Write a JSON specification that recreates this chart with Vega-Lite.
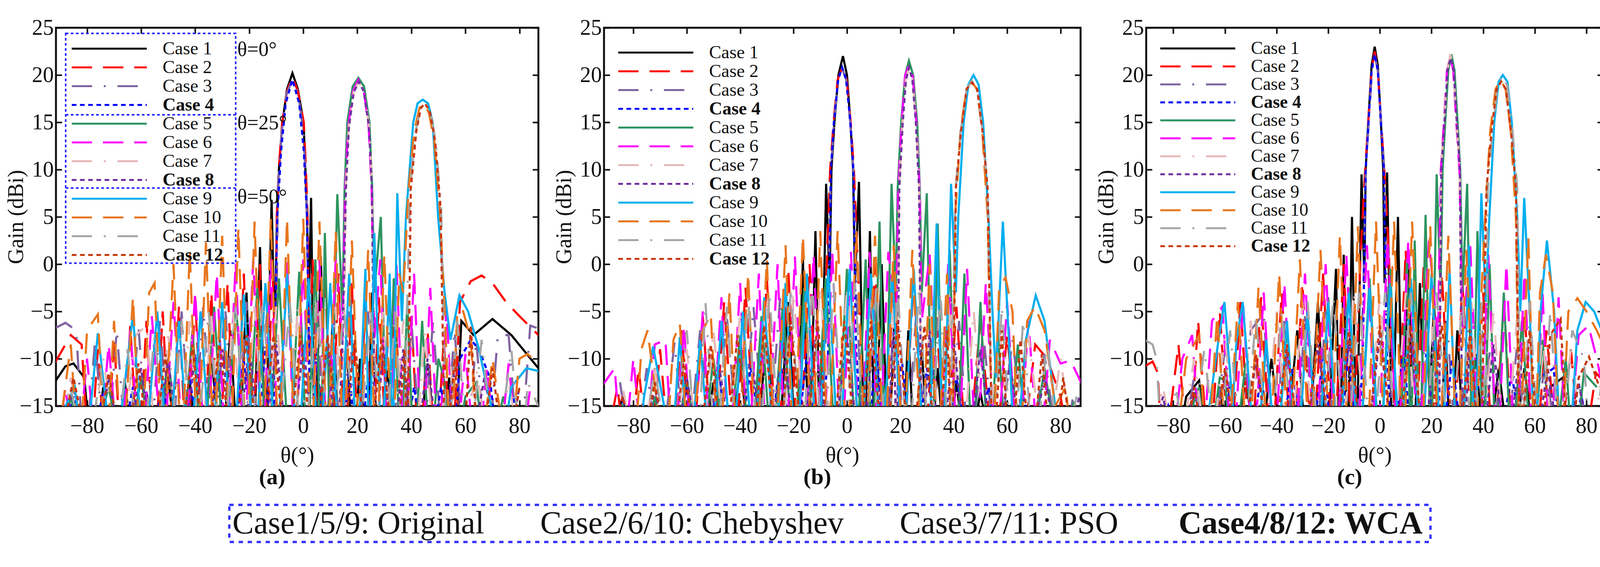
{
  "$schema": "https://vega.github.io/schema/vega-lite/v6.json",
  "background": "white",
  "padding": {"left": 10, "top": 40, "right": 0, "bottom": 0},
  "config": {
    "font": "Liberation Serif",
    "view": {"stroke": "#111111", "strokeWidth": 5},
    "axis": {"labelFont": "Liberation Serif", "titleFont": "Liberation Serif", "labelFontSize": 56, "titleFontSize": 56, "titleFontWeight": "normal", "labelColor": "#111111", "titleColor": "#111111", "domain": false, "grid": false, "tickColor": "#111111", "tickWidth": 4, "tickSize": -15},
    "title": {"font": "Liberation Serif", "fontSize": 58, "fontWeight": "bold", "color": "#111111"}
  },
  "datasets": {
    "a": [
      {"c":1,"x":-92,"y":-12.5},{"c":1,"x":-88,"y":-10.8},{"c":1,"x":-85,"y":-10.5},{"c":1,"x":-81,"y":-12},{"c":1,"x":-78,"y":-22},{"c":1,"x":-74,"y":-13},{"c":1,"x":-70,"y":-22},{"c":1,"x":-66,"y":-12.5},{"c":1,"x":-62,"y":-22},{"c":1,"x":-58,"y":-13.5},{"c":1,"x":-54,"y":-22},{"c":1,"x":-50,"y":-12},{"c":1,"x":-46,"y":-22},{"c":1,"x":-42,"y":-12.5},{"c":1,"x":-38,"y":-22},{"c":1,"x":-34,"y":-9.5},{"c":1,"x":-30,"y":-22},{"c":1,"x":-27,"y":-7},{"c":1,"x":-24,"y":-22},{"c":1,"x":-21,"y":-3},{"c":1,"x":-18.5,"y":-22},{"c":1,"x":-16,"y":1.8},{"c":1,"x":-14,"y":-22},{"c":1,"x":-11.7,"y":6.8},{"c":1,"x":-10.6,"y":-8},{"c":1,"x":-9.7,"y":5},{"c":1,"x":-9,"y":10},{"c":1,"x":-7.7,"y":15},{"c":1,"x":-6,"y":18.5},{"c":1,"x":-4,"y":20.2},{"c":1,"x":-2,"y":18.5},{"c":1,"x":0.1,"y":15},{"c":1,"x":0.8,"y":10},{"c":1,"x":1.4,"y":5},{"c":1,"x":2,"y":-5},{"c":1,"x":2.9,"y":7},{"c":1,"x":4.2,"y":-22},{"c":1,"x":6.5,"y":0.8},{"c":1,"x":8.5,"y":-22},{"c":1,"x":11,"y":-5},{"c":1,"x":13.5,"y":-22},{"c":1,"x":16,"y":-8},{"c":1,"x":18.5,"y":-22},{"c":1,"x":21,"y":-10},{"c":1,"x":23.5,"y":-22},{"c":1,"x":25.5,"y":-3},{"c":1,"x":27.5,"y":-22},{"c":1,"x":31,"y":-11},{"c":1,"x":34,"y":-22},{"c":1,"x":38,"y":-13},{"c":1,"x":42,"y":-22},{"c":1,"x":46,"y":-10.5},{"c":1,"x":50,"y":-22},{"c":1,"x":54,"y":-12},{"c":1,"x":56,"y":-22},{"c":1,"x":58.5,"y":-6},{"c":1,"x":63,"y":-7.5},{"c":1,"x":70,"y":-5.8},{"c":1,"x":77,"y":-7.5},{"c":1,"x":87,"y":-11},
      {"c":2,"x":-92,"y":-10.5},{"c":2,"x":-86,"y":-7.5},{"c":2,"x":-82,"y":-8.5},{"c":2,"x":-79,"y":-22},{"c":2,"x":-76,"y":-9},{"c":2,"x":-73,"y":-22},{"c":2,"x":-70,"y":-8},{"c":2,"x":-67,"y":-22},{"c":2,"x":-64,"y":-6.5},{"c":2,"x":-61,"y":-22},{"c":2,"x":-58,"y":-6},{"c":2,"x":-55,"y":-22},{"c":2,"x":-52,"y":-5},{"c":2,"x":-49,"y":-22},{"c":2,"x":-46,"y":-4.5},{"c":2,"x":-43,"y":-22},{"c":2,"x":-40,"y":-3.5},{"c":2,"x":-37,"y":-22},{"c":2,"x":-34,"y":-3},{"c":2,"x":-31,"y":-22},{"c":2,"x":-28,"y":-2},{"c":2,"x":-25,"y":-22},{"c":2,"x":-22,"y":-1},{"c":2,"x":-19,"y":-22},{"c":2,"x":-16,"y":0},{"c":2,"x":-13.5,"y":-22},{"c":2,"x":-11.5,"y":0.5},{"c":2,"x":-10.3,"y":-10},{"c":2,"x":-9.8,"y":5},{"c":2,"x":-9.1,"y":10},{"c":2,"x":-7.8,"y":15},{"c":2,"x":-6,"y":18.3},{"c":2,"x":-4,"y":19.8},{"c":2,"x":-2,"y":18.3},{"c":2,"x":0.2,"y":15},{"c":2,"x":1,"y":10},{"c":2,"x":1.6,"y":5},{"c":2,"x":2.2,"y":-10},{"c":2,"x":3.5,"y":0.5},{"c":2,"x":5.5,"y":-22},{"c":2,"x":8,"y":0},{"c":2,"x":10.5,"y":-22},{"c":2,"x":13,"y":-1},{"c":2,"x":15.5,"y":-22},{"c":2,"x":18,"y":-2},{"c":2,"x":20.5,"y":-22},{"c":2,"x":23,"y":-3},{"c":2,"x":25.5,"y":-22},{"c":2,"x":28,"y":-3.5},{"c":2,"x":31,"y":-22},{"c":2,"x":34,"y":-4.5},{"c":2,"x":37,"y":-22},{"c":2,"x":40,"y":-5.5},{"c":2,"x":43,"y":-22},{"c":2,"x":46,"y":-7},{"c":2,"x":49,"y":-22},{"c":2,"x":52,"y":-8},{"c":2,"x":55,"y":-22},{"c":2,"x":58,"y":-4},{"c":2,"x":62,"y":-1.8},{"c":2,"x":66,"y":-1.2},{"c":2,"x":70,"y":-2},{"c":2,"x":75,"y":-4},{"c":2,"x":80,"y":-5.5},{"c":2,"x":87,"y":-7.5},
      {"c":3,"x":-92,"y":-6.8},{"c":3,"x":-88,"y":-6.2},{"c":3,"x":-84,"y":-7},{"c":3,"x":-81,"y":-22},{"c":3,"x":-77,"y":-8},{"c":3,"x":-73,"y":-22},{"c":3,"x":-69,"y":-7},{"c":3,"x":-65,"y":-22},{"c":3,"x":-61,"y":-6.5},{"c":3,"x":-57,"y":-22},{"c":3,"x":-53,"y":-6},{"c":3,"x":-49,"y":-22},{"c":3,"x":-45,"y":-5},{"c":3,"x":-41,"y":-22},{"c":3,"x":-37,"y":-4.5},{"c":3,"x":-33,"y":-22},{"c":3,"x":-29,"y":-4},{"c":3,"x":-25,"y":-22},{"c":3,"x":-21,"y":-4},{"c":3,"x":-17,"y":-22},{"c":3,"x":-13,"y":-3},{"c":3,"x":-10.5,"y":-22},{"c":3,"x":-9.4,"y":8},{"c":3,"x":-8,"y":14},{"c":3,"x":-6.2,"y":18},{"c":3,"x":-4,"y":19.5},{"c":3,"x":-1.8,"y":18},{"c":3,"x":0,"y":14},{"c":3,"x":1.2,"y":8},{"c":3,"x":2.5,"y":-22},{"c":3,"x":5,"y":-4},{"c":3,"x":8,"y":-22},{"c":3,"x":11,"y":-5},{"c":3,"x":14,"y":-22},{"c":3,"x":17,"y":-5},{"c":3,"x":20,"y":-22},{"c":3,"x":24,"y":-5},{"c":3,"x":28,"y":-22},{"c":3,"x":32,"y":-5.5},{"c":3,"x":36,"y":-22},{"c":3,"x":40,"y":-6},{"c":3,"x":44,"y":-22},{"c":3,"x":48,"y":-6},{"c":3,"x":52,"y":-22},{"c":3,"x":56,"y":-7},{"c":3,"x":60,"y":-22},{"c":3,"x":64,"y":-8},{"c":3,"x":68,"y":-22},{"c":3,"x":72,"y":-7.5},{"c":3,"x":76,"y":-7.5},{"c":3,"x":80,"y":-22},{"c":3,"x":84,"y":-6.5},{"c":3,"x":87,"y":-6.8},
      {"c":4,"x":-92,"y":-22},{"c":4,"x":-85,"y":-14},{"c":4,"x":-80,"y":-22},{"c":4,"x":-74,"y":-13.5},{"c":4,"x":-69,"y":-22},{"c":4,"x":-63,"y":-13},{"c":4,"x":-58,"y":-22},{"c":4,"x":-52,"y":-12.5},{"c":4,"x":-47,"y":-22},{"c":4,"x":-42,"y":-12},{"c":4,"x":-37,"y":-22},{"c":4,"x":-32,"y":-11},{"c":4,"x":-27,"y":-22},{"c":4,"x":-22,"y":-10},{"c":4,"x":-18,"y":-22},{"c":4,"x":-14,"y":-9},{"c":4,"x":-11.5,"y":-22},{"c":4,"x":-9.6,"y":5},{"c":4,"x":-8.2,"y":12},{"c":4,"x":-6.5,"y":17},{"c":4,"x":-4,"y":19.5},{"c":4,"x":-1.5,"y":17},{"c":4,"x":0.2,"y":12},{"c":4,"x":1.4,"y":5},{"c":4,"x":2.8,"y":-22},{"c":4,"x":5,"y":-9},{"c":4,"x":8,"y":-22},{"c":4,"x":11,"y":-10},{"c":4,"x":14,"y":-22},{"c":4,"x":17,"y":-11},{"c":4,"x":20,"y":-22},{"c":4,"x":24,"y":-12},{"c":4,"x":28,"y":-22},{"c":4,"x":32,"y":-12.5},{"c":4,"x":36,"y":-22},{"c":4,"x":41,"y":-13},{"c":4,"x":46,"y":-22},{"c":4,"x":51,"y":-13},{"c":4,"x":55,"y":-22},{"c":4,"x":58,"y":-10},{"c":4,"x":62,"y":-8},{"c":4,"x":65,"y":-9},{"c":4,"x":69,"y":-12},{"c":4,"x":73,"y":-22},{"c":4,"x":78,"y":-14},{"c":4,"x":85,"y":-22},
      {"c":5,"x":-92,"y":-22},{"c":5,"x":-86,"y":-14},{"c":5,"x":-80,"y":-22},{"c":5,"x":-72,"y":-13},{"c":5,"x":-66,"y":-22},{"c":5,"x":-60,"y":-12},{"c":5,"x":-55,"y":-22},{"c":5,"x":-50,"y":-10},{"c":5,"x":-45,"y":-22},{"c":5,"x":-41,"y":-7},{"c":5,"x":-37,"y":-22},{"c":5,"x":-33,"y":-4.5},{"c":5,"x":-29,"y":-22},{"c":5,"x":-25,"y":-3.5},{"c":5,"x":-21,"y":-22},{"c":5,"x":-17,"y":-2.5},{"c":5,"x":-13,"y":-22},{"c":5,"x":-9,"y":-1.5},{"c":5,"x":-5,"y":-22},{"c":5,"x":-1.5,"y":-0.8},{"c":5,"x":1.5,"y":-22},{"c":5,"x":4.5,"y":0.5},{"c":5,"x":6.5,"y":-22},{"c":5,"x":8,"y":3.3},{"c":5,"x":10.2,"y":-22},{"c":5,"x":12.6,"y":7.4},{"c":5,"x":14.5,"y":-5},{"c":5,"x":15.3,"y":8},{"c":5,"x":16.3,"y":15},{"c":5,"x":18.3,"y":18.8},{"c":5,"x":20.4,"y":19.7},{"c":5,"x":22.5,"y":18.8},{"c":5,"x":24.5,"y":15},{"c":5,"x":25.5,"y":8},{"c":5,"x":26.3,"y":-3},{"c":5,"x":28.7,"y":5},{"c":5,"x":31,"y":-22},{"c":5,"x":33.5,"y":-1.5},{"c":5,"x":36,"y":-22},{"c":5,"x":38.5,"y":-4},{"c":5,"x":41,"y":-22},{"c":5,"x":44,"y":-6},{"c":5,"x":47,"y":-22},{"c":5,"x":50,"y":-10},{"c":5,"x":52,"y":-12},{"c":5,"x":55,"y":-22},{"c":5,"x":60,"y":-14},{"c":5,"x":64,"y":-12.5},{"c":5,"x":68,"y":-22},{"c":5,"x":74,"y":-14},{"c":5,"x":80,"y":-22},
      {"c":6,"x":-92,"y":-22},{"c":6,"x":-88,"y":-13},{"c":6,"x":-84,"y":-22},{"c":6,"x":-80,"y":-10},{"c":6,"x":-76,"y":-22},{"c":6,"x":-72,"y":-8.5},{"c":6,"x":-68,"y":-22},{"c":6,"x":-64,"y":-7},{"c":6,"x":-60,"y":-22},{"c":6,"x":-56,"y":-5.5},{"c":6,"x":-52,"y":-22},{"c":6,"x":-48,"y":-4},{"c":6,"x":-44,"y":-22},{"c":6,"x":-40,"y":-3},{"c":6,"x":-36,"y":-22},{"c":6,"x":-32,"y":-1},{"c":6,"x":-28.5,"y":-22},{"c":6,"x":-25,"y":0.2},{"c":6,"x":-22,"y":-22},{"c":6,"x":-18.5,"y":0.5},{"c":6,"x":-15,"y":-22},{"c":6,"x":-12,"y":0.5},{"c":6,"x":-9,"y":-22},{"c":6,"x":-6,"y":0.5},{"c":6,"x":-3,"y":-22},{"c":6,"x":0,"y":0.5},{"c":6,"x":3,"y":-22},{"c":6,"x":6,"y":0.5},{"c":6,"x":9,"y":-22},{"c":6,"x":12,"y":0.5},{"c":6,"x":14.5,"y":-8},{"c":6,"x":15.5,"y":8},{"c":6,"x":16.6,"y":14.5},{"c":6,"x":18.4,"y":18.3},{"c":6,"x":20.4,"y":19.5},{"c":6,"x":22.4,"y":18.3},{"c":6,"x":24.2,"y":14.5},{"c":6,"x":25.3,"y":8},{"c":6,"x":26.3,"y":-8},{"c":6,"x":28.5,"y":0.5},{"c":6,"x":31.5,"y":-22},{"c":6,"x":34.5,"y":0},{"c":6,"x":37.5,"y":-22},{"c":6,"x":41,"y":-1},{"c":6,"x":44,"y":-22},{"c":6,"x":47,"y":-2.5},{"c":6,"x":50,"y":-22},{"c":6,"x":53,"y":-4.5},{"c":6,"x":56,"y":-22},{"c":6,"x":60,"y":-9.5},{"c":6,"x":64,"y":-22},{"c":6,"x":68,"y":-11},{"c":6,"x":72,"y":-22},{"c":6,"x":76,"y":-10.5},{"c":6,"x":80,"y":-22},{"c":6,"x":84,"y":-13},
      {"c":7,"x":-92,"y":-22},{"c":7,"x":-86,"y":-12},{"c":7,"x":-80,"y":-22},{"c":7,"x":-74,"y":-10},{"c":7,"x":-68,"y":-22},{"c":7,"x":-62,"y":-7.5},{"c":7,"x":-58,"y":-6.5},{"c":7,"x":-54,"y":-22},{"c":7,"x":-50,"y":-7},{"c":7,"x":-46,"y":-22},{"c":7,"x":-42,"y":-6},{"c":7,"x":-38,"y":-22},{"c":7,"x":-34,"y":-5.5},{"c":7,"x":-30,"y":-22},{"c":7,"x":-26,"y":-5},{"c":7,"x":-22,"y":-22},{"c":7,"x":-18,"y":-4.5},{"c":7,"x":-14,"y":-22},{"c":7,"x":-10,"y":-4.5},{"c":7,"x":-6,"y":-22},{"c":7,"x":-2,"y":-4.5},{"c":7,"x":2,"y":-22},{"c":7,"x":6,"y":-4.5},{"c":7,"x":9,"y":-22},{"c":7,"x":12,"y":-4.5},{"c":7,"x":14.6,"y":-22},{"c":7,"x":15.7,"y":8},{"c":7,"x":16.8,"y":14.5},{"c":7,"x":18.6,"y":18.2},{"c":7,"x":20.6,"y":19.3},{"c":7,"x":22.6,"y":18.2},{"c":7,"x":24.4,"y":14.5},{"c":7,"x":25.5,"y":8},{"c":7,"x":26.6,"y":-22},{"c":7,"x":29.5,"y":-5},{"c":7,"x":33,"y":-22},{"c":7,"x":37,"y":-5.8},{"c":7,"x":41,"y":-22},{"c":7,"x":45,"y":-7},{"c":7,"x":49,"y":-22},{"c":7,"x":54,"y":-9},{"c":7,"x":58,"y":-22},{"c":7,"x":64,"y":-11},{"c":7,"x":70,"y":-22},{"c":7,"x":76,"y":-12.5},{"c":7,"x":82,"y":-22},
      {"c":8,"x":-92,"y":-22},{"c":8,"x":-85,"y":-13},{"c":8,"x":-78,"y":-22},{"c":8,"x":-72,"y":-12},{"c":8,"x":-66,"y":-22},{"c":8,"x":-60,"y":-11},{"c":8,"x":-55,"y":-22},{"c":8,"x":-50,"y":-10},{"c":8,"x":-45,"y":-22},{"c":8,"x":-40,"y":-9.5},{"c":8,"x":-35,"y":-22},{"c":8,"x":-30,"y":-9},{"c":8,"x":-25,"y":-22},{"c":8,"x":-20,"y":-8.5},{"c":8,"x":-15,"y":-22},{"c":8,"x":-10,"y":-8.5},{"c":8,"x":-5,"y":-22},{"c":8,"x":0,"y":-8.5},{"c":8,"x":5,"y":-22},{"c":8,"x":9,"y":-8},{"c":8,"x":12.5,"y":-22},{"c":8,"x":14.5,"y":-8.5},{"c":8,"x":15.8,"y":8},{"c":8,"x":16.9,"y":14.5},{"c":8,"x":18.7,"y":18.2},{"c":8,"x":20.6,"y":19.3},{"c":8,"x":22.5,"y":18.2},{"c":8,"x":24.3,"y":14.5},{"c":8,"x":25.4,"y":8},{"c":8,"x":26.6,"y":-22},{"c":8,"x":29.5,"y":-8},{"c":8,"x":33,"y":-22},{"c":8,"x":37,"y":-9},{"c":8,"x":41,"y":-22},{"c":8,"x":46,"y":-10},{"c":8,"x":51,"y":-22},{"c":8,"x":56,"y":-11},{"c":8,"x":61,"y":-22},{"c":8,"x":67,"y":-12},{"c":8,"x":74,"y":-22},{"c":8,"x":80,"y":-13},
      {"c":9,"x":-92,"y":-22},{"c":9,"x":-88,"y":-15},{"c":9,"x":-84.5,"y":-13},{"c":9,"x":-81,"y":-22},{"c":9,"x":-76,"y":-7.3},{"c":9,"x":-70,"y":-22},{"c":9,"x":-63,"y":-5.3},{"c":9,"x":-59,"y":-22},{"c":9,"x":-54,"y":-5},{"c":9,"x":-50,"y":-22},{"c":9,"x":-46,"y":-6},{"c":9,"x":-42,"y":-22},{"c":9,"x":-38,"y":-5},{"c":9,"x":-34,"y":-22},{"c":9,"x":-30,"y":-4},{"c":9,"x":-26,"y":-22},{"c":9,"x":-22,"y":-3.2},{"c":9,"x":-18,"y":-22},{"c":9,"x":-14,"y":-2},{"c":9,"x":-10,"y":-22},{"c":9,"x":-6,"y":-1},{"c":9,"x":-2,"y":-22},{"c":9,"x":2,"y":-1.5},{"c":9,"x":6,"y":-22},{"c":9,"x":10,"y":-2},{"c":9,"x":13.5,"y":-22},{"c":9,"x":17,"y":-1},{"c":9,"x":20,"y":-22},{"c":9,"x":23,"y":-0.5},{"c":9,"x":24.5,"y":-22},{"c":9,"x":26.3,"y":3.3},{"c":9,"x":29,"y":-22},{"c":9,"x":32,"y":-1},{"c":9,"x":33,"y":-22},{"c":9,"x":34.8,"y":7.5},{"c":9,"x":36.5,"y":-6},{"c":9,"x":38,"y":5},{"c":9,"x":40.7,"y":15},{"c":9,"x":42.3,"y":17},{"c":9,"x":44.2,"y":17.4},{"c":9,"x":46.2,"y":17},{"c":9,"x":47.9,"y":15},{"c":9,"x":49.9,"y":5},{"c":9,"x":52.3,"y":-3},{"c":9,"x":54.5,"y":-8},{"c":9,"x":57.8,"y":-3.3},{"c":9,"x":61,"y":-5},{"c":9,"x":65,"y":-9},{"c":9,"x":69.5,"y":-15},{"c":9,"x":72,"y":-22},{"c":9,"x":77,"y":-13},{"c":9,"x":82.6,"y":-11},{"c":9,"x":87,"y":-11.3},
      {"c":10,"x":-92,"y":-22},{"c":10,"x":-89,"y":-15},{"c":10,"x":-86,"y":-8.5},{"c":10,"x":-83,"y":-22},{"c":10,"x":-80,"y":-7},{"c":10,"x":-76,"y":-5.3},{"c":10,"x":-73,"y":-22},{"c":10,"x":-70,"y":-6},{"c":10,"x":-67,"y":-22},{"c":10,"x":-63,"y":-3.5},{"c":10,"x":-60,"y":-22},{"c":10,"x":-57,"y":-3},{"c":10,"x":-55,"y":-2},{"c":10,"x":-52,"y":-22},{"c":10,"x":-48,"y":0},{"c":10,"x":-45,"y":-22},{"c":10,"x":-42,"y":1.5},{"c":10,"x":-39,"y":-22},{"c":10,"x":-36,"y":2.3},{"c":10,"x":-33,"y":-22},{"c":10,"x":-30,"y":3},{"c":10,"x":-27,"y":-22},{"c":10,"x":-24,"y":3.8},{"c":10,"x":-21,"y":-22},{"c":10,"x":-18,"y":4.5},{"c":10,"x":-15,"y":-22},{"c":10,"x":-12,"y":4.8},{"c":10,"x":-9,"y":-22},{"c":10,"x":-6,"y":4.8},{"c":10,"x":-3,"y":-22},{"c":10,"x":0,"y":4.8},{"c":10,"x":3,"y":-22},{"c":10,"x":6,"y":4.5},{"c":10,"x":9,"y":-22},{"c":10,"x":12,"y":3.5},{"c":10,"x":15,"y":-22},{"c":10,"x":18,"y":2.5},{"c":10,"x":21,"y":-22},{"c":10,"x":24,"y":1.5},{"c":10,"x":27,"y":-22},{"c":10,"x":30,"y":1},{"c":10,"x":33,"y":-22},{"c":10,"x":35.5,"y":-1},{"c":10,"x":37,"y":-3},{"c":10,"x":39,"y":8},{"c":10,"x":41,"y":14},{"c":10,"x":43,"y":16.5},{"c":10,"x":44.5,"y":17},{"c":10,"x":46.5,"y":16},{"c":10,"x":48.5,"y":13},{"c":10,"x":50.5,"y":6},{"c":10,"x":52.5,"y":-6},{"c":10,"x":54.5,"y":-22},{"c":10,"x":57,"y":-5},{"c":10,"x":59,"y":-4.8},{"c":10,"x":62,"y":-8},{"c":10,"x":65,"y":-22},{"c":10,"x":70,"y":-10},{"c":10,"x":76,"y":-22},{"c":10,"x":80,"y":-10},{"c":10,"x":83,"y":-9.5},{"c":10,"x":87,"y":-10.5},
      {"c":11,"x":-92,"y":-22},{"c":11,"x":-86,"y":-13},{"c":11,"x":-80,"y":-22},{"c":11,"x":-75,"y":-11},{"c":11,"x":-70,"y":-22},{"c":11,"x":-65,"y":-9},{"c":11,"x":-60,"y":-22},{"c":11,"x":-55,"y":-7.5},{"c":11,"x":-50,"y":-22},{"c":11,"x":-45,"y":-6},{"c":11,"x":-40,"y":-22},{"c":11,"x":-35,"y":-5},{"c":11,"x":-30,"y":-22},{"c":11,"x":-25,"y":-4.5},{"c":11,"x":-20,"y":-22},{"c":11,"x":-15,"y":-4},{"c":11,"x":-10,"y":-22},{"c":11,"x":-5,"y":-4},{"c":11,"x":0,"y":-22},{"c":11,"x":5,"y":-4},{"c":11,"x":10,"y":-22},{"c":11,"x":15,"y":-4.5},{"c":11,"x":20,"y":-22},{"c":11,"x":25,"y":-5},{"c":11,"x":30,"y":-22},{"c":11,"x":34,"y":-5},{"c":11,"x":37,"y":-22},{"c":11,"x":39.5,"y":8},{"c":11,"x":41.5,"y":14},{"c":11,"x":43.5,"y":16.5},{"c":11,"x":45,"y":17},{"c":11,"x":47,"y":16.2},{"c":11,"x":49,"y":13},{"c":11,"x":51,"y":6},{"c":11,"x":53,"y":-22},{"c":11,"x":57,"y":-6},{"c":11,"x":61,"y":-22},{"c":11,"x":66,"y":-8},{"c":11,"x":71,"y":-22},{"c":11,"x":77,"y":-9},{"c":11,"x":81,"y":-22},{"c":11,"x":83,"y":-12.5},{"c":11,"x":87,"y":-15},
      {"c":12,"x":-92,"y":-22},{"c":12,"x":-85,"y":-12},{"c":12,"x":-78,"y":-22},{"c":12,"x":-72,"y":-11.5},{"c":12,"x":-66,"y":-22},{"c":12,"x":-61,"y":-10.5},{"c":12,"x":-56,"y":-22},{"c":12,"x":-51,"y":-9.5},{"c":12,"x":-46,"y":-22},{"c":12,"x":-41,"y":-8.5},{"c":12,"x":-36,"y":-22},{"c":12,"x":-31,"y":-8},{"c":12,"x":-26,"y":-22},{"c":12,"x":-21,"y":-7.5},{"c":12,"x":-16,"y":-22},{"c":12,"x":-11,"y":-7.5},{"c":12,"x":-6,"y":-22},{"c":12,"x":-1,"y":-7.5},{"c":12,"x":4,"y":-22},{"c":12,"x":9,"y":-7.5},{"c":12,"x":14,"y":-22},{"c":12,"x":19,"y":-8},{"c":12,"x":24,"y":-22},{"c":12,"x":29,"y":-8},{"c":12,"x":34,"y":-22},{"c":12,"x":37.5,"y":-9},{"c":12,"x":38.5,"y":-22},{"c":12,"x":39.8,"y":8},{"c":12,"x":41.8,"y":14},{"c":12,"x":43.5,"y":16.5},{"c":12,"x":45,"y":17},{"c":12,"x":46.8,"y":16.2},{"c":12,"x":48.8,"y":13},{"c":12,"x":50.8,"y":6},{"c":12,"x":52.5,"y":-22},{"c":12,"x":56,"y":-10},{"c":12,"x":59,"y":-22},{"c":12,"x":62,"y":-6.5},{"c":12,"x":65,"y":-22},{"c":12,"x":70,"y":-11},{"c":12,"x":75,"y":-22},{"c":12,"x":80,"y":-13}
    ],
    "b": [
      {"c":1,"x":-92,"y":-22},{"c":1,"x":-84,"y":-14},{"c":1,"x":-78,"y":-22},{"c":1,"x":-72,"y":-14.5},{"c":1,"x":-66,"y":-22},{"c":1,"x":-60,"y":-13},{"c":1,"x":-55,"y":-22},{"c":1,"x":-50,"y":-12.5},{"c":1,"x":-45,"y":-22},{"c":1,"x":-40,"y":-11},{"c":1,"x":-35,"y":-22},{"c":1,"x":-30,"y":-8},{"c":1,"x":-26,"y":-22},{"c":1,"x":-22,"y":-4},{"c":1,"x":-19,"y":-22},{"c":1,"x":-16.5,"y":0.5},{"c":1,"x":-14,"y":-22},{"c":1,"x":-11.8,"y":3.5},{"c":1,"x":-10,"y":-22},{"c":1,"x":-7.8,"y":8.5},{"c":1,"x":-6.5,"y":-2},{"c":1,"x":-5.8,"y":10},{"c":1,"x":-4.7,"y":15},{"c":1,"x":-3.2,"y":20},{"c":1,"x":-1.5,"y":22},{"c":1,"x":0,"y":20},{"c":1,"x":1.3,"y":15},{"c":1,"x":2.3,"y":10},{"c":1,"x":3,"y":-2},{"c":1,"x":4.5,"y":8.7},{"c":1,"x":6.5,"y":-22},{"c":1,"x":8.6,"y":3.5},{"c":1,"x":10.5,"y":-22},{"c":1,"x":13,"y":0},{"c":1,"x":15.5,"y":-22},{"c":1,"x":18,"y":-4},{"c":1,"x":20.5,"y":-22},{"c":1,"x":23,"y":-7},{"c":1,"x":25.5,"y":-22},{"c":1,"x":28,"y":-9},{"c":1,"x":31,"y":-22},{"c":1,"x":34,"y":-11},{"c":1,"x":37,"y":-22},{"c":1,"x":41,"y":-12.5},{"c":1,"x":45,"y":-22},{"c":1,"x":50,"y":-13.5},{"c":1,"x":55,"y":-22},{"c":1,"x":62,"y":-14.5},{"c":1,"x":70,"y":-22},{"c":1,"x":78,"y":-15},{"c":1,"x":88,"y":-22},
      {"c":2,"x":-92,"y":-22},{"c":2,"x":-86,"y":-13},{"c":2,"x":-82,"y":-22},{"c":2,"x":-78,"y":-11},{"c":2,"x":-74,"y":-22},{"c":2,"x":-70,"y":-9},{"c":2,"x":-66,"y":-22},{"c":2,"x":-62,"y":-7},{"c":2,"x":-58,"y":-22},{"c":2,"x":-54,"y":-5.5},{"c":2,"x":-50,"y":-22},{"c":2,"x":-46,"y":-4},{"c":2,"x":-42,"y":-22},{"c":2,"x":-38,"y":-2.5},{"c":2,"x":-34,"y":-22},{"c":2,"x":-30,"y":-1.5},{"c":2,"x":-26,"y":-22},{"c":2,"x":-22,"y":-0.5},{"c":2,"x":-18,"y":-22},{"c":2,"x":-14,"y":0},{"c":2,"x":-10.5,"y":-22},{"c":2,"x":-7.5,"y":0.3},{"c":2,"x":-6.3,"y":10},{"c":2,"x":-5,"y":15},{"c":2,"x":-3.5,"y":19.5},{"c":2,"x":-1.8,"y":20.8},{"c":2,"x":-0.1,"y":19.5},{"c":2,"x":1.4,"y":15},{"c":2,"x":2.6,"y":10},{"c":2,"x":4,"y":0.3},{"c":2,"x":7,"y":-22},{"c":2,"x":10.5,"y":0},{"c":2,"x":14,"y":-22},{"c":2,"x":17.5,"y":-0.5},{"c":2,"x":21,"y":-22},{"c":2,"x":25,"y":-1.5},{"c":2,"x":29,"y":-22},{"c":2,"x":33,"y":-3},{"c":2,"x":37,"y":-22},{"c":2,"x":41,"y":-4.5},{"c":2,"x":45,"y":-22},{"c":2,"x":50,"y":-6},{"c":2,"x":55,"y":-22},{"c":2,"x":60,"y":-7.5},{"c":2,"x":65,"y":-22},{"c":2,"x":70.5,"y":-8.5},{"c":2,"x":75,"y":-10},{"c":2,"x":80,"y":-14},{"c":2,"x":85,"y":-22},
      {"c":3,"x":-92,"y":-22},{"c":3,"x":-85,"y":-12.5},{"c":3,"x":-80,"y":-22},{"c":3,"x":-75,"y":-11},{"c":3,"x":-70,"y":-22},{"c":3,"x":-64.6,"y":-8.3},{"c":3,"x":-60,"y":-22},{"c":3,"x":-55,"y":-7},{"c":3,"x":-50,"y":-22},{"c":3,"x":-45,"y":-5.5},{"c":3,"x":-40,"y":-22},{"c":3,"x":-35,"y":-4.5},{"c":3,"x":-30,"y":-22},{"c":3,"x":-25,"y":-3.5},{"c":3,"x":-20,"y":-22},{"c":3,"x":-15,"y":-3},{"c":3,"x":-10.5,"y":-22},{"c":3,"x":-7,"y":-3},{"c":3,"x":-6,"y":10},{"c":3,"x":-4.8,"y":15},{"c":3,"x":-3.3,"y":19.5},{"c":3,"x":-1.8,"y":20.7},{"c":3,"x":-0.3,"y":19.5},{"c":3,"x":1.2,"y":15},{"c":3,"x":2.4,"y":10},{"c":3,"x":3.5,"y":-3},{"c":3,"x":6.5,"y":-22},{"c":3,"x":10,"y":-3.5},{"c":3,"x":14,"y":-22},{"c":3,"x":18,"y":-4},{"c":3,"x":22,"y":-22},{"c":3,"x":26,"y":-5},{"c":3,"x":30,"y":-22},{"c":3,"x":34,"y":-5.5},{"c":3,"x":38,"y":-22},{"c":3,"x":42,"y":-6},{"c":3,"x":46,"y":-22},{"c":3,"x":51,"y":-7},{"c":3,"x":56,"y":-22},{"c":3,"x":62,"y":-8},{"c":3,"x":68,"y":-22},{"c":3,"x":74,"y":-9.5},{"c":3,"x":80,"y":-22},{"c":3,"x":85,"y":-13.5},
      {"c":4,"x":-92,"y":-22},{"c":4,"x":-84,"y":-14.5},{"c":4,"x":-78,"y":-22},{"c":4,"x":-72,"y":-14},{"c":4,"x":-66,"y":-22},{"c":4,"x":-60,"y":-13},{"c":4,"x":-54,"y":-22},{"c":4,"x":-48,"y":-12},{"c":4,"x":-42,"y":-22},{"c":4,"x":-36,"y":-11},{"c":4,"x":-30,"y":-22},{"c":4,"x":-25,"y":-10},{"c":4,"x":-20,"y":-22},{"c":4,"x":-15,"y":-9.5},{"c":4,"x":-10.5,"y":-22},{"c":4,"x":-7,"y":-9},{"c":4,"x":-6,"y":10},{"c":4,"x":-4.9,"y":15},{"c":4,"x":-3.3,"y":19.5},{"c":4,"x":-1.8,"y":20.8},{"c":4,"x":-0.3,"y":19.5},{"c":4,"x":1.3,"y":15},{"c":4,"x":2.4,"y":10},{"c":4,"x":3.4,"y":-9},{"c":4,"x":6.5,"y":-22},{"c":4,"x":11,"y":-9.5},{"c":4,"x":15.5,"y":-22},{"c":4,"x":20.5,"y":-10},{"c":4,"x":25,"y":-22},{"c":4,"x":30,"y":-11},{"c":4,"x":35,"y":-22},{"c":4,"x":41,"y":-12},{"c":4,"x":47,"y":-22},{"c":4,"x":53,"y":-13},{"c":4,"x":59,"y":-22},{"c":4,"x":66,"y":-14},{"c":4,"x":73,"y":-22},{"c":4,"x":80,"y":-15},
      {"c":5,"x":-92,"y":-22},{"c":5,"x":-84,"y":-15},{"c":5,"x":-78,"y":-22},{"c":5,"x":-72,"y":-14},{"c":5,"x":-66,"y":-22},{"c":5,"x":-60,"y":-12},{"c":5,"x":-55,"y":-22},{"c":5,"x":-50,"y":-10},{"c":5,"x":-45,"y":-22},{"c":5,"x":-40,"y":-7.5},{"c":5,"x":-36,"y":-22},{"c":5,"x":-32,"y":-5.5},{"c":5,"x":-28,"y":-22},{"c":5,"x":-24,"y":-4},{"c":5,"x":-20,"y":-22},{"c":5,"x":-16,"y":-2.5},{"c":5,"x":-12,"y":-22},{"c":5,"x":-8,"y":-1.5},{"c":5,"x":-4,"y":-22},{"c":5,"x":0,"y":-0.5},{"c":5,"x":3.5,"y":-22},{"c":5,"x":7,"y":0.5},{"c":5,"x":9.5,"y":-22},{"c":5,"x":12.2,"y":4.5},{"c":5,"x":14.3,"y":-22},{"c":5,"x":16.7,"y":8.5},{"c":5,"x":18.3,"y":-3},{"c":5,"x":19,"y":8},{"c":5,"x":20.3,"y":15},{"c":5,"x":21.8,"y":20},{"c":5,"x":23.2,"y":21.5},{"c":5,"x":24.8,"y":20},{"c":5,"x":26.3,"y":15},{"c":5,"x":27.3,"y":8},{"c":5,"x":28,"y":-3},{"c":5,"x":29.9,"y":7.5},{"c":5,"x":32,"y":-22},{"c":5,"x":34,"y":4.3},{"c":5,"x":36,"y":-22},{"c":5,"x":38.5,"y":1.5},{"c":5,"x":41,"y":-22},{"c":5,"x":44,"y":-1},{"c":5,"x":47,"y":-22},{"c":5,"x":50,"y":-4},{"c":5,"x":53,"y":-22},{"c":5,"x":56.5,"y":-7},{"c":5,"x":60,"y":-22},{"c":5,"x":64,"y":-8.5},{"c":5,"x":68,"y":-22},{"c":5,"x":74,"y":-11},{"c":5,"x":80,"y":-22},{"c":5,"x":85,"y":-14.5},
      {"c":6,"x":-92,"y":-13},{"c":6,"x":-87,"y":-11},{"c":6,"x":-84,"y":-22},{"c":6,"x":-80,"y":-10},{"c":6,"x":-76,"y":-22},{"c":6,"x":-72,"y":-8.5},{"c":6,"x":-68,"y":-8},{"c":6,"x":-65,"y":-22},{"c":6,"x":-61,"y":-6.5},{"c":6,"x":-58,"y":-22},{"c":6,"x":-54,"y":-5},{"c":6,"x":-51,"y":-22},{"c":6,"x":-47,"y":-3.5},{"c":6,"x":-44,"y":-22},{"c":6,"x":-40,"y":-2},{"c":6,"x":-37,"y":-22},{"c":6,"x":-33,"y":-1},{"c":6,"x":-30,"y":-22},{"c":6,"x":-26,"y":0},{"c":6,"x":-23,"y":-22},{"c":6,"x":-19.5,"y":0.8},{"c":6,"x":-16,"y":-22},{"c":6,"x":-12.5,"y":1},{"c":6,"x":-9,"y":-22},{"c":6,"x":-5.5,"y":1.3},{"c":6,"x":-2,"y":-22},{"c":6,"x":1.5,"y":1.3},{"c":6,"x":5,"y":-22},{"c":6,"x":8.5,"y":1.3},{"c":6,"x":12,"y":-22},{"c":6,"x":15.5,"y":1.3},{"c":6,"x":18.5,"y":-6},{"c":6,"x":19.2,"y":8},{"c":6,"x":20.5,"y":15},{"c":6,"x":21.8,"y":20},{"c":6,"x":23.2,"y":21},{"c":6,"x":24.6,"y":20},{"c":6,"x":26,"y":15},{"c":6,"x":27.2,"y":8},{"c":6,"x":28,"y":-6},{"c":6,"x":31,"y":1},{"c":6,"x":34.5,"y":-22},{"c":6,"x":38,"y":0.5},{"c":6,"x":41.5,"y":-22},{"c":6,"x":45,"y":-0.5},{"c":6,"x":48.5,"y":-22},{"c":6,"x":52,"y":-2},{"c":6,"x":56,"y":-22},{"c":6,"x":60,"y":-4},{"c":6,"x":64,"y":-22},{"c":6,"x":68,"y":-6},{"c":6,"x":72,"y":-22},{"c":6,"x":76,"y":-8},{"c":6,"x":80,"y":-10.5},{"c":6,"x":83.8,"y":-10.2},{"c":6,"x":88,"y":-12.7},
      {"c":7,"x":-92,"y":-22},{"c":7,"x":-84,"y":-13},{"c":7,"x":-78,"y":-22},{"c":7,"x":-72,"y":-11},{"c":7,"x":-66,"y":-22},{"c":7,"x":-60,"y":-9},{"c":7,"x":-55,"y":-22},{"c":7,"x":-50,"y":-7},{"c":7,"x":-45,"y":-22},{"c":7,"x":-40,"y":-5},{"c":7,"x":-35,"y":-22},{"c":7,"x":-30,"y":-4},{"c":7,"x":-25,"y":-22},{"c":7,"x":-20,"y":-3},{"c":7,"x":-15,"y":-22},{"c":7,"x":-10,"y":-2.5},{"c":7,"x":-5,"y":-22},{"c":7,"x":0,"y":-2.5},{"c":7,"x":5,"y":-22},{"c":7,"x":9,"y":-2.5},{"c":7,"x":13,"y":-22},{"c":7,"x":17,"y":-3},{"c":7,"x":18.8,"y":-22},{"c":7,"x":19.5,"y":8},{"c":7,"x":20.8,"y":15},{"c":7,"x":22,"y":19.5},{"c":7,"x":23.3,"y":20.8},{"c":7,"x":24.6,"y":19.5},{"c":7,"x":25.9,"y":15},{"c":7,"x":27.1,"y":8},{"c":7,"x":28,"y":-22},{"c":7,"x":31.5,"y":-3.5},{"c":7,"x":35,"y":-22},{"c":7,"x":39,"y":-4},{"c":7,"x":43,"y":-22},{"c":7,"x":47.5,"y":-5},{"c":7,"x":52,"y":-22},{"c":7,"x":57,"y":-6},{"c":7,"x":62,"y":-22},{"c":7,"x":68,"y":-7.5},{"c":7,"x":74,"y":-22},{"c":7,"x":80,"y":-10},{"c":7,"x":86,"y":-22},
      {"c":8,"x":-92,"y":-22},{"c":8,"x":-84,"y":-14},{"c":8,"x":-78,"y":-22},{"c":8,"x":-72,"y":-13},{"c":8,"x":-66,"y":-22},{"c":8,"x":-60,"y":-12},{"c":8,"x":-54,"y":-22},{"c":8,"x":-48,"y":-10.5},{"c":8,"x":-42,"y":-22},{"c":8,"x":-36,"y":-9.5},{"c":8,"x":-30,"y":-22},{"c":8,"x":-24,"y":-8.5},{"c":8,"x":-18,"y":-22},{"c":8,"x":-12,"y":-8},{"c":8,"x":-6,"y":-22},{"c":8,"x":0,"y":-7.5},{"c":8,"x":5,"y":-22},{"c":8,"x":10,"y":-7.5},{"c":8,"x":14.5,"y":-22},{"c":8,"x":17.5,"y":-7},{"c":8,"x":18.8,"y":-22},{"c":8,"x":19.6,"y":8},{"c":8,"x":20.9,"y":15},{"c":8,"x":22.1,"y":19.5},{"c":8,"x":23.3,"y":20.8},{"c":8,"x":24.5,"y":19.5},{"c":8,"x":25.8,"y":15},{"c":8,"x":27,"y":8},{"c":8,"x":28,"y":-22},{"c":8,"x":31,"y":-7},{"c":8,"x":35,"y":-22},{"c":8,"x":40,"y":-8},{"c":8,"x":45,"y":-22},{"c":8,"x":50,"y":-9},{"c":8,"x":55,"y":-22},{"c":8,"x":61,"y":-10.5},{"c":8,"x":67,"y":-22},{"c":8,"x":74,"y":-12},{"c":8,"x":81,"y":-22},{"c":8,"x":87,"y":-14},
      {"c":9,"x":-92,"y":-22},{"c":9,"x":-79,"y":-22},{"c":9,"x":-76,"y":-14},{"c":9,"x":-72.6,"y":-8.7},{"c":9,"x":-68.5,"y":-15},{"c":9,"x":-66,"y":-22},{"c":9,"x":-62.6,"y":-7.7},{"c":9,"x":-59,"y":-22},{"c":9,"x":-55,"y":-8},{"c":9,"x":-51,"y":-22},{"c":9,"x":-47,"y":-6},{"c":9,"x":-43,"y":-22},{"c":9,"x":-39,"y":-5},{"c":9,"x":-35,"y":-22},{"c":9,"x":-31,"y":-3.5},{"c":9,"x":-27,"y":-22},{"c":9,"x":-23,"y":-2},{"c":9,"x":-19,"y":-22},{"c":9,"x":-15,"y":-1},{"c":9,"x":-11,"y":-22},{"c":9,"x":-7,"y":-0.5},{"c":9,"x":-3,"y":-22},{"c":9,"x":1,"y":-0.5},{"c":9,"x":5,"y":-22},{"c":9,"x":9,"y":-1},{"c":9,"x":13,"y":-22},{"c":9,"x":17,"y":-1},{"c":9,"x":21,"y":-22},{"c":9,"x":25,"y":-0.5},{"c":9,"x":29,"y":-22},{"c":9,"x":30.5,"y":-22},{"c":9,"x":33.6,"y":4.3},{"c":9,"x":36,"y":-22},{"c":9,"x":39,"y":8.5},{"c":9,"x":40.8,"y":-3},{"c":9,"x":41.7,"y":5},{"c":9,"x":43.7,"y":15},{"c":9,"x":45.5,"y":19},{"c":9,"x":47.4,"y":20},{"c":9,"x":49.3,"y":19},{"c":9,"x":51,"y":15},{"c":9,"x":53,"y":5},{"c":9,"x":54.5,"y":-5},{"c":9,"x":55.8,"y":-12},{"c":9,"x":58.4,"y":4.5},{"c":9,"x":61,"y":-10},{"c":9,"x":63,"y":-22},{"c":9,"x":67,"y":-8},{"c":9,"x":70.7,"y":-3.3},{"c":9,"x":74,"y":-6},{"c":9,"x":78,"y":-15},{"c":9,"x":80,"y":-22},{"c":9,"x":88,"y":-22},
      {"c":10,"x":-92,"y":-22},{"c":10,"x":-80,"y":-22},{"c":10,"x":-77,"y":-9},{"c":10,"x":-74.7,"y":-7},{"c":10,"x":-71,"y":-15},{"c":10,"x":-68,"y":-22},{"c":10,"x":-65,"y":-8},{"c":10,"x":-62.6,"y":-6.3},{"c":10,"x":-59,"y":-22},{"c":10,"x":-54,"y":-7},{"c":10,"x":-51,"y":-5.3},{"c":10,"x":-48,"y":-22},{"c":10,"x":-44,"y":-3},{"c":10,"x":-41,"y":-22},{"c":10,"x":-37,"y":-1},{"c":10,"x":-34,"y":-22},{"c":10,"x":-30,"y":0.5},{"c":10,"x":-27,"y":-22},{"c":10,"x":-23,"y":2},{"c":10,"x":-20,"y":-22},{"c":10,"x":-16.5,"y":3},{"c":10,"x":-13,"y":-22},{"c":10,"x":-10,"y":3.5},{"c":10,"x":-7,"y":-22},{"c":10,"x":-3.5,"y":3.5},{"c":10,"x":0,"y":-22},{"c":10,"x":3.5,"y":3.5},{"c":10,"x":7,"y":-22},{"c":10,"x":10.5,"y":3},{"c":10,"x":14,"y":-22},{"c":10,"x":17.5,"y":2},{"c":10,"x":21,"y":-22},{"c":10,"x":24.5,"y":1.5},{"c":10,"x":28,"y":-22},{"c":10,"x":31,"y":0},{"c":10,"x":34,"y":-22},{"c":10,"x":37.5,"y":-1},{"c":10,"x":39.5,"y":-22},{"c":10,"x":40.5,"y":5},{"c":10,"x":42.5,"y":14},{"c":10,"x":44.7,"y":18.5},{"c":10,"x":46.7,"y":19.3},{"c":10,"x":48.7,"y":18.5},{"c":10,"x":50.7,"y":14},{"c":10,"x":52.7,"y":5},{"c":10,"x":54.5,"y":-22},{"c":10,"x":57,"y":-2.5},{"c":10,"x":59.4,"y":-1.4},{"c":10,"x":62,"y":-5},{"c":10,"x":64.5,"y":-22},{"c":10,"x":67.5,"y":-6},{"c":10,"x":70.4,"y":-4.5},{"c":10,"x":74,"y":-7},{"c":10,"x":78,"y":-15},{"c":10,"x":82,"y":-13},{"c":10,"x":85,"y":-22},
      {"c":11,"x":-92,"y":-22},{"c":11,"x":-84,"y":-14},{"c":11,"x":-78,"y":-22},{"c":11,"x":-72,"y":-11},{"c":11,"x":-66,"y":-22},{"c":11,"x":-60,"y":-7},{"c":11,"x":-56,"y":-22},{"c":11,"x":-53,"y":-4},{"c":11,"x":-49,"y":-22},{"c":11,"x":-45,"y":-4.5},{"c":11,"x":-41,"y":-22},{"c":11,"x":-37,"y":-3.5},{"c":11,"x":-33,"y":-22},{"c":11,"x":-29,"y":-3},{"c":11,"x":-25,"y":-22},{"c":11,"x":-21,"y":-2.5},{"c":11,"x":-17,"y":-22},{"c":11,"x":-13,"y":-2},{"c":11,"x":-9,"y":-22},{"c":11,"x":-5,"y":-2},{"c":11,"x":-1,"y":-22},{"c":11,"x":3,"y":-2},{"c":11,"x":7,"y":-22},{"c":11,"x":11,"y":-2},{"c":11,"x":15,"y":-22},{"c":11,"x":19,"y":-2.5},{"c":11,"x":23,"y":-22},{"c":11,"x":27,"y":-2.5},{"c":11,"x":31,"y":-22},{"c":11,"x":35,"y":-3},{"c":11,"x":38.5,"y":-22},{"c":11,"x":40.7,"y":8},{"c":11,"x":42.6,"y":14},{"c":11,"x":44.8,"y":18.5},{"c":11,"x":46.8,"y":19.4},{"c":11,"x":48.8,"y":18.5},{"c":11,"x":50.8,"y":14},{"c":11,"x":52.6,"y":8},{"c":11,"x":54.5,"y":-22},{"c":11,"x":58,"y":-4.5},{"c":11,"x":62,"y":-22},{"c":11,"x":66,"y":-6},{"c":11,"x":70,"y":-22},{"c":11,"x":75,"y":-8},{"c":11,"x":80,"y":-22},{"c":11,"x":86,"y":-14},
      {"c":12,"x":-92,"y":-22},{"c":12,"x":-84,"y":-14},{"c":12,"x":-78,"y":-22},{"c":12,"x":-72,"y":-12.5},{"c":12,"x":-66,"y":-22},{"c":12,"x":-61,"y":-10},{"c":12,"x":-56,"y":-22},{"c":12,"x":-51,"y":-8.5},{"c":12,"x":-46,"y":-22},{"c":12,"x":-41,"y":-7.5},{"c":12,"x":-36,"y":-22},{"c":12,"x":-31,"y":-6.5},{"c":12,"x":-26,"y":-22},{"c":12,"x":-21,"y":-6},{"c":12,"x":-16,"y":-22},{"c":12,"x":-11,"y":-6},{"c":12,"x":-6,"y":-22},{"c":12,"x":-1,"y":-6},{"c":12,"x":4,"y":-22},{"c":12,"x":9,"y":-6},{"c":12,"x":14,"y":-22},{"c":12,"x":19,"y":-6},{"c":12,"x":24,"y":-22},{"c":12,"x":29,"y":-6.5},{"c":12,"x":34,"y":-22},{"c":12,"x":37.5,"y":-7},{"c":12,"x":39.5,"y":-22},{"c":12,"x":40.8,"y":8},{"c":12,"x":42.7,"y":14},{"c":12,"x":44.8,"y":18.5},{"c":12,"x":46.8,"y":19.2},{"c":12,"x":48.8,"y":18.5},{"c":12,"x":50.8,"y":14},{"c":12,"x":52.7,"y":8},{"c":12,"x":54.5,"y":-22},{"c":12,"x":58,"y":-7},{"c":12,"x":61,"y":-22},{"c":12,"x":65,"y":-8},{"c":12,"x":69,"y":-22},{"c":12,"x":73,"y":-9.5},{"c":12,"x":77,"y":-22},{"c":12,"x":81,"y":-12},{"c":12,"x":86,"y":-22}
    ],
    "c": [
      {"c":1,"x":-91,"y":-22},{"c":1,"x":-80,"y":-22},{"c":1,"x":-75,"y":-14},{"c":1,"x":-70,"y":-12.3},{"c":1,"x":-66,"y":-22},{"c":1,"x":-62,"y":-13},{"c":1,"x":-57,"y":-22},{"c":1,"x":-52,"y":-12},{"c":1,"x":-47,"y":-22},{"c":1,"x":-42,"y":-10},{"c":1,"x":-37,"y":-22},{"c":1,"x":-32,"y":-7},{"c":1,"x":-28,"y":-22},{"c":1,"x":-24,"y":-4},{"c":1,"x":-20.5,"y":-22},{"c":1,"x":-17,"y":-0.5},{"c":1,"x":-15.5,"y":-22},{"c":1,"x":-14,"y":1},{"c":1,"x":-12.5,"y":-22},{"c":1,"x":-10.8,"y":5},{"c":1,"x":-9,"y":-22},{"c":1,"x":-7.1,"y":9.5},{"c":1,"x":-6,"y":-2},{"c":1,"x":-5.5,"y":10},{"c":1,"x":-4.5,"y":15},{"c":1,"x":-3.2,"y":21},{"c":1,"x":-2,"y":23},{"c":1,"x":-0.8,"y":21},{"c":1,"x":0.4,"y":15},{"c":1,"x":1.3,"y":10},{"c":1,"x":1.8,"y":-2},{"c":1,"x":2.8,"y":9.7},{"c":1,"x":4.8,"y":-22},{"c":1,"x":7,"y":5},{"c":1,"x":9,"y":-22},{"c":1,"x":11,"y":1},{"c":1,"x":13,"y":-22},{"c":1,"x":15.5,"y":-2},{"c":1,"x":18,"y":-22},{"c":1,"x":21,"y":-4},{"c":1,"x":23.5,"y":-22},{"c":1,"x":25.3,"y":-6},{"c":1,"x":27.5,"y":-22},{"c":1,"x":30,"y":-7},{"c":1,"x":33,"y":-22},{"c":1,"x":37,"y":-9.5},{"c":1,"x":41,"y":-22},{"c":1,"x":46,"y":-11},{"c":1,"x":51,"y":-22},{"c":1,"x":56,"y":-11},{"c":1,"x":61,"y":-22},{"c":1,"x":66,"y":-13},{"c":1,"x":70.8,"y":-12},{"c":1,"x":74,"y":-22},{"c":1,"x":87,"y":-22},
      {"c":2,"x":-91,"y":-10.8},{"c":2,"x":-88,"y":-10.3},{"c":2,"x":-86,"y":-11.5},{"c":2,"x":-84,"y":-22},{"c":2,"x":-78,"y":-8.5},{"c":2,"x":-74,"y":-22},{"c":2,"x":-70.4,"y":-6},{"c":2,"x":-66,"y":-22},{"c":2,"x":-62,"y":-5},{"c":2,"x":-58,"y":-22},{"c":2,"x":-54,"y":-4},{"c":2,"x":-50,"y":-22},{"c":2,"x":-46,"y":-3.5},{"c":2,"x":-42,"y":-22},{"c":2,"x":-38,"y":-3},{"c":2,"x":-34,"y":-22},{"c":2,"x":-30,"y":-2},{"c":2,"x":-26,"y":-22},{"c":2,"x":-22,"y":-1},{"c":2,"x":-18,"y":-22},{"c":2,"x":-14,"y":0},{"c":2,"x":-10.5,"y":-22},{"c":2,"x":-7.5,"y":1},{"c":2,"x":-5.7,"y":10},{"c":2,"x":-4.5,"y":15},{"c":2,"x":-3.2,"y":20.5},{"c":2,"x":-2,"y":22.5},{"c":2,"x":-0.8,"y":20.5},{"c":2,"x":0.5,"y":15},{"c":2,"x":1.7,"y":10},{"c":2,"x":3.5,"y":1},{"c":2,"x":6.5,"y":-22},{"c":2,"x":10,"y":1.5},{"c":2,"x":13.5,"y":-22},{"c":2,"x":17,"y":0},{"c":2,"x":20.5,"y":-22},{"c":2,"x":24,"y":-1},{"c":2,"x":28,"y":-22},{"c":2,"x":32,"y":-2},{"c":2,"x":36,"y":-22},{"c":2,"x":40,"y":-3},{"c":2,"x":44,"y":-22},{"c":2,"x":48,"y":-4},{"c":2,"x":52,"y":-22},{"c":2,"x":56,"y":-5},{"c":2,"x":60,"y":-22},{"c":2,"x":64.5,"y":-7},{"c":2,"x":69,"y":-22},{"c":2,"x":74,"y":-9},{"c":2,"x":78,"y":-22},{"c":2,"x":83.7,"y":-11.5},{"c":2,"x":87,"y":-12.5},
      {"c":3,"x":-91,"y":-22},{"c":3,"x":-84,"y":-14},{"c":3,"x":-78,"y":-22},{"c":3,"x":-72,"y":-12},{"c":3,"x":-66,"y":-22},{"c":3,"x":-60,"y":-9},{"c":3,"x":-55,"y":-22},{"c":3,"x":-50,"y":-7},{"c":3,"x":-45,"y":-5.2},{"c":3,"x":-41,"y":-22},{"c":3,"x":-37,"y":-6},{"c":3,"x":-33,"y":-22},{"c":3,"x":-29,"y":-5.5},{"c":3,"x":-25,"y":-22},{"c":3,"x":-21,"y":-5},{"c":3,"x":-17,"y":-22},{"c":3,"x":-13,"y":-4.5},{"c":3,"x":-9.5,"y":-22},{"c":3,"x":-6.5,"y":-4},{"c":3,"x":-5.5,"y":10},{"c":3,"x":-4.3,"y":15},{"c":3,"x":-3.1,"y":20.3},{"c":3,"x":-1.9,"y":22},{"c":3,"x":-0.7,"y":20.3},{"c":3,"x":0.5,"y":15},{"c":3,"x":1.7,"y":10},{"c":3,"x":2.7,"y":-4},{"c":3,"x":6,"y":-22},{"c":3,"x":10,"y":-5},{"c":3,"x":14,"y":-22},{"c":3,"x":18,"y":-5.5},{"c":3,"x":22,"y":-22},{"c":3,"x":26,"y":-6},{"c":3,"x":30,"y":-22},{"c":3,"x":34,"y":-7},{"c":3,"x":38,"y":-22},{"c":3,"x":43,"y":-8},{"c":3,"x":48,"y":-22},{"c":3,"x":53,"y":-9},{"c":3,"x":58,"y":-22},{"c":3,"x":64,"y":-10.5},{"c":3,"x":70,"y":-22},{"c":3,"x":77,"y":-12.5},{"c":3,"x":84,"y":-22},
      {"c":4,"x":-91,"y":-22},{"c":4,"x":-82,"y":-15},{"c":4,"x":-76,"y":-22},{"c":4,"x":-70,"y":-14},{"c":4,"x":-64,"y":-22},{"c":4,"x":-58,"y":-13},{"c":4,"x":-52,"y":-22},{"c":4,"x":-46,"y":-12},{"c":4,"x":-40,"y":-22},{"c":4,"x":-34,"y":-11},{"c":4,"x":-28,"y":-22},{"c":4,"x":-22,"y":-10},{"c":4,"x":-17,"y":-22},{"c":4,"x":-12,"y":-9},{"c":4,"x":-8.5,"y":-22},{"c":4,"x":-6.5,"y":-8},{"c":4,"x":-5.5,"y":10},{"c":4,"x":-4.4,"y":15},{"c":4,"x":-3.2,"y":20.5},{"c":4,"x":-2,"y":22.2},{"c":4,"x":-0.8,"y":20.5},{"c":4,"x":0.4,"y":15},{"c":4,"x":1.5,"y":10},{"c":4,"x":2.5,"y":-8},{"c":4,"x":5,"y":-22},{"c":4,"x":9,"y":-8.5},{"c":4,"x":13,"y":-22},{"c":4,"x":18,"y":-9.5},{"c":4,"x":23,"y":-22},{"c":4,"x":28,"y":-10},{"c":4,"x":33,"y":-22},{"c":4,"x":39,"y":-11},{"c":4,"x":45,"y":-22},{"c":4,"x":51,"y":-11.5},{"c":4,"x":57,"y":-22},{"c":4,"x":62,"y":-12},{"c":4,"x":67.3,"y":-11},{"c":4,"x":71,"y":-22},{"c":4,"x":78,"y":-14},{"c":4,"x":85,"y":-22},
      {"c":5,"x":-91,"y":-22},{"c":5,"x":-76,"y":-22},{"c":5,"x":-72,"y":-14.5},{"c":5,"x":-70,"y":-13},{"c":5,"x":-67,"y":-22},{"c":5,"x":-62,"y":-12},{"c":5,"x":-60,"y":-12.3},{"c":5,"x":-57,"y":-22},{"c":5,"x":-52,"y":-10.5},{"c":5,"x":-48,"y":-22},{"c":5,"x":-44,"y":-8.5},{"c":5,"x":-40,"y":-22},{"c":5,"x":-36,"y":-6.5},{"c":5,"x":-32,"y":-22},{"c":5,"x":-28,"y":-5},{"c":5,"x":-24,"y":-22},{"c":5,"x":-20,"y":-3.5},{"c":5,"x":-16,"y":-22},{"c":5,"x":-12,"y":-2.5},{"c":5,"x":-8,"y":-22},{"c":5,"x":-4,"y":-1.5},{"c":5,"x":0,"y":-22},{"c":5,"x":4,"y":-0.5},{"c":5,"x":7.5,"y":-22},{"c":5,"x":10.5,"y":0.5},{"c":5,"x":12,"y":-22},{"c":5,"x":13.5,"y":2.5},{"c":5,"x":15.5,"y":-22},{"c":5,"x":17.7,"y":5.2},{"c":5,"x":19.8,"y":-22},{"c":5,"x":22,"y":9.5},{"c":5,"x":23.5,"y":-3},{"c":5,"x":24.3,"y":10},{"c":5,"x":25.3,"y":15},{"c":5,"x":26.5,"y":20.5},{"c":5,"x":27.7,"y":22.2},{"c":5,"x":28.9,"y":20.5},{"c":5,"x":30.1,"y":15},{"c":5,"x":31.1,"y":10},{"c":5,"x":32,"y":-3},{"c":5,"x":33.8,"y":8.5},{"c":5,"x":35.8,"y":-22},{"c":5,"x":37.8,"y":3.5},{"c":5,"x":40,"y":-22},{"c":5,"x":42.5,"y":0},{"c":5,"x":45,"y":-22},{"c":5,"x":48,"y":-3},{"c":5,"x":51,"y":-22},{"c":5,"x":55,"y":-6},{"c":5,"x":59,"y":-22},{"c":5,"x":63,"y":-8},{"c":5,"x":67,"y":-22},{"c":5,"x":72,"y":-10},{"c":5,"x":75,"y":-22},{"c":5,"x":79,"y":-11.5},{"c":5,"x":84,"y":-13},
      {"c":6,"x":-91,"y":-22},{"c":6,"x":-81,"y":-22},{"c":6,"x":-76.5,"y":-10},{"c":6,"x":-72.7,"y":-7.5},{"c":6,"x":-69,"y":-22},{"c":6,"x":-65,"y":-6},{"c":6,"x":-61,"y":-4.5},{"c":6,"x":-57,"y":-22},{"c":6,"x":-53,"y":-4},{"c":6,"x":-49,"y":-22},{"c":6,"x":-45,"y":-3},{"c":6,"x":-41,"y":-22},{"c":6,"x":-37,"y":-2},{"c":6,"x":-33,"y":-22},{"c":6,"x":-29,"y":-1},{"c":6,"x":-25,"y":-22},{"c":6,"x":-21,"y":0},{"c":6,"x":-17,"y":-22},{"c":6,"x":-13,"y":1},{"c":6,"x":-9,"y":-22},{"c":6,"x":-5,"y":2},{"c":6,"x":-1,"y":-22},{"c":6,"x":3,"y":2.5},{"c":6,"x":7,"y":-22},{"c":6,"x":11,"y":2.5},{"c":6,"x":15,"y":-22},{"c":6,"x":19,"y":2.5},{"c":6,"x":22.5,"y":-8},{"c":6,"x":23.6,"y":10},{"c":6,"x":24.8,"y":15},{"c":6,"x":26,"y":20.5},{"c":6,"x":27.2,"y":22},{"c":6,"x":28.4,"y":20.5},{"c":6,"x":29.6,"y":15},{"c":6,"x":30.8,"y":10},{"c":6,"x":32,"y":-8},{"c":6,"x":35,"y":2},{"c":6,"x":38.5,"y":-22},{"c":6,"x":42,"y":1},{"c":6,"x":45.5,"y":-22},{"c":6,"x":49,"y":0},{"c":6,"x":52.5,"y":-22},{"c":6,"x":56,"y":-1},{"c":6,"x":59.5,"y":-22},{"c":6,"x":63,"y":-3},{"c":6,"x":66,"y":-22},{"c":6,"x":69.2,"y":-3.5},{"c":6,"x":72.5,"y":-22},{"c":6,"x":77,"y":-7.5},{"c":6,"x":80.8,"y":-6.5},{"c":6,"x":84,"y":-10},{"c":6,"x":87,"y":-14},
      {"c":7,"x":-91,"y":-22},{"c":7,"x":-84,"y":-13},{"c":7,"x":-78,"y":-22},{"c":7,"x":-72,"y":-10},{"c":7,"x":-66,"y":-22},{"c":7,"x":-60,"y":-7.5},{"c":7,"x":-55,"y":-22},{"c":7,"x":-50,"y":-6},{"c":7,"x":-45,"y":-22},{"c":7,"x":-40,"y":-5},{"c":7,"x":-35,"y":-22},{"c":7,"x":-30,"y":-4},{"c":7,"x":-25,"y":-22},{"c":7,"x":-20,"y":-3.5},{"c":7,"x":-15,"y":-22},{"c":7,"x":-10,"y":-3},{"c":7,"x":-5,"y":-22},{"c":7,"x":0,"y":-3},{"c":7,"x":5,"y":-22},{"c":7,"x":10,"y":-3},{"c":7,"x":15,"y":-22},{"c":7,"x":19.5,"y":-3},{"c":7,"x":22.8,"y":-22},{"c":7,"x":23.7,"y":10},{"c":7,"x":24.9,"y":15},{"c":7,"x":26.1,"y":20.5},{"c":7,"x":27.3,"y":22.2},{"c":7,"x":28.5,"y":20.5},{"c":7,"x":29.7,"y":15},{"c":7,"x":30.9,"y":10},{"c":7,"x":31.8,"y":-22},{"c":7,"x":35.5,"y":-4},{"c":7,"x":39.5,"y":-22},{"c":7,"x":44,"y":-5},{"c":7,"x":48.5,"y":-22},{"c":7,"x":53,"y":-6},{"c":7,"x":58,"y":-22},{"c":7,"x":63,"y":-7.5},{"c":7,"x":68,"y":-22},{"c":7,"x":74,"y":-9},{"c":7,"x":80,"y":-22},{"c":7,"x":86,"y":-12},
      {"c":8,"x":-91,"y":-22},{"c":8,"x":-84,"y":-14},{"c":8,"x":-78,"y":-22},{"c":8,"x":-72,"y":-13},{"c":8,"x":-66,"y":-22},{"c":8,"x":-60,"y":-11.5},{"c":8,"x":-54,"y":-22},{"c":8,"x":-48,"y":-10},{"c":8,"x":-42,"y":-22},{"c":8,"x":-36,"y":-9},{"c":8,"x":-30,"y":-22},{"c":8,"x":-24,"y":-8.5},{"c":8,"x":-18,"y":-22},{"c":8,"x":-12,"y":-8},{"c":8,"x":-6,"y":-22},{"c":8,"x":0,"y":-7.5},{"c":8,"x":6,"y":-22},{"c":8,"x":12,"y":-7.5},{"c":8,"x":17,"y":-22},{"c":8,"x":21,"y":-7},{"c":8,"x":22.8,"y":-22},{"c":8,"x":23.8,"y":10},{"c":8,"x":25,"y":15},{"c":8,"x":26.2,"y":20.5},{"c":8,"x":27.4,"y":21.8},{"c":8,"x":28.6,"y":20.5},{"c":8,"x":29.8,"y":15},{"c":8,"x":31,"y":10},{"c":8,"x":32,"y":-22},{"c":8,"x":35,"y":-7.5},{"c":8,"x":39,"y":-22},{"c":8,"x":44,"y":-8.5},{"c":8,"x":49,"y":-22},{"c":8,"x":54,"y":-9.5},{"c":8,"x":59,"y":-22},{"c":8,"x":65,"y":-11},{"c":8,"x":71,"y":-22},{"c":8,"x":77,"y":-12.5},{"c":8,"x":83,"y":-22},
      {"c":9,"x":-91,"y":-22},{"c":9,"x":-70,"y":-22},{"c":9,"x":-66,"y":-15},{"c":9,"x":-62.5,"y":-8},{"c":9,"x":-60.2,"y":-4},{"c":9,"x":-57,"y":-15},{"c":9,"x":-55.5,"y":-8},{"c":9,"x":-53.1,"y":-4},{"c":9,"x":-50,"y":-15},{"c":9,"x":-48,"y":-22},{"c":9,"x":-44,"y":-8},{"c":9,"x":-40,"y":-22},{"c":9,"x":-36,"y":-6},{"c":9,"x":-32,"y":-22},{"c":9,"x":-28,"y":-5},{"c":9,"x":-24,"y":-22},{"c":9,"x":-20,"y":-4},{"c":9,"x":-16,"y":-22},{"c":9,"x":-12,"y":-3},{"c":9,"x":-8,"y":-22},{"c":9,"x":-4,"y":-2.5},{"c":9,"x":0,"y":-22},{"c":9,"x":4,"y":-2},{"c":9,"x":8,"y":-22},{"c":9,"x":12,"y":-1.5},{"c":9,"x":16,"y":-22},{"c":9,"x":20,"y":-1},{"c":9,"x":24,"y":-22},{"c":9,"x":27,"y":-0.5},{"c":9,"x":30,"y":-22},{"c":9,"x":32,"y":-22},{"c":9,"x":34.5,"y":2},{"c":9,"x":36.8,"y":-22},{"c":9,"x":39.3,"y":7.5},{"c":9,"x":41,"y":-4},{"c":9,"x":42.4,"y":5},{"c":9,"x":44.3,"y":15},{"c":9,"x":46,"y":19.3},{"c":9,"x":47.6,"y":20},{"c":9,"x":49.4,"y":19.3},{"c":9,"x":51.1,"y":15},{"c":9,"x":53.2,"y":5},{"c":9,"x":54.4,"y":-5},{"c":9,"x":55.9,"y":7},{"c":9,"x":58.2,"y":-6},{"c":9,"x":60,"y":-22},{"c":9,"x":62.2,"y":-5},{"c":9,"x":64.7,"y":2.5},{"c":9,"x":67.5,"y":-5},{"c":9,"x":70.3,"y":-22},{"c":9,"x":73,"y":-22},{"c":9,"x":76.5,"y":-7},{"c":9,"x":79.7,"y":-4},{"c":9,"x":83,"y":-5},{"c":9,"x":87,"y":-7.8},
      {"c":10,"x":-91,"y":-22},{"c":10,"x":-80,"y":-22},{"c":10,"x":-75,"y":-10},{"c":10,"x":-70,"y":-7.5},{"c":10,"x":-67,"y":-22},{"c":10,"x":-63,"y":-5.5},{"c":10,"x":-59,"y":-22},{"c":10,"x":-55,"y":-4},{"c":10,"x":-51,"y":-22},{"c":10,"x":-47,"y":-2.5},{"c":10,"x":-43,"y":-22},{"c":10,"x":-39,"y":-1},{"c":10,"x":-35,"y":-22},{"c":10,"x":-31,"y":0.5},{"c":10,"x":-27,"y":-22},{"c":10,"x":-23,"y":1.5},{"c":10,"x":-19,"y":-22},{"c":10,"x":-15.5,"y":3},{"c":10,"x":-12,"y":-22},{"c":10,"x":-8.5,"y":4},{"c":10,"x":-5,"y":-22},{"c":10,"x":-1.5,"y":4.5},{"c":10,"x":2,"y":-22},{"c":10,"x":5.5,"y":4.5},{"c":10,"x":9,"y":-22},{"c":10,"x":12.5,"y":4.5},{"c":10,"x":16,"y":-22},{"c":10,"x":19.5,"y":4},{"c":10,"x":23,"y":-22},{"c":10,"x":26.5,"y":3},{"c":10,"x":30,"y":-22},{"c":10,"x":33.5,"y":1.5},{"c":10,"x":37,"y":-22},{"c":10,"x":39.5,"y":-2},{"c":10,"x":40.8,"y":5},{"c":10,"x":42.7,"y":14},{"c":10,"x":44.8,"y":18.5},{"c":10,"x":46.7,"y":19.5},{"c":10,"x":48.7,"y":18.5},{"c":10,"x":50.7,"y":14},{"c":10,"x":52.7,"y":5},{"c":10,"x":54,"y":-22},{"c":10,"x":57.5,"y":2.8},{"c":10,"x":60,"y":-22},{"c":10,"x":62,"y":-3},{"c":10,"x":64.3,"y":1},{"c":10,"x":67,"y":-3},{"c":10,"x":70,"y":-22},{"c":10,"x":73,"y":-5},{"c":10,"x":76.5,"y":-3.6},{"c":10,"x":80,"y":-5},{"c":10,"x":84,"y":-7},{"c":10,"x":87,"y":-8.8},
      {"c":11,"x":-91,"y":-8},{"c":11,"x":-88,"y":-8.5},{"c":11,"x":-86.5,"y":-10},{"c":11,"x":-84,"y":-22},{"c":11,"x":-79,"y":-13},{"c":11,"x":-74,"y":-22},{"c":11,"x":-68,"y":-9},{"c":11,"x":-63,"y":-22},{"c":11,"x":-58,"y":-7},{"c":11,"x":-53,"y":-22},{"c":11,"x":-48,"y":-5.5},{"c":11,"x":-43,"y":-22},{"c":11,"x":-38,"y":-5},{"c":11,"x":-33,"y":-22},{"c":11,"x":-28,"y":-4},{"c":11,"x":-23,"y":-22},{"c":11,"x":-18,"y":-3.5},{"c":11,"x":-13,"y":-22},{"c":11,"x":-8,"y":-3},{"c":11,"x":-3,"y":-22},{"c":11,"x":2,"y":-3},{"c":11,"x":7,"y":-22},{"c":11,"x":12,"y":-3},{"c":11,"x":17,"y":-22},{"c":11,"x":22,"y":-3},{"c":11,"x":27,"y":-22},{"c":11,"x":32,"y":-3.5},{"c":11,"x":36,"y":-22},{"c":11,"x":39.5,"y":-4},{"c":11,"x":41,"y":-22},{"c":11,"x":41.8,"y":8},{"c":11,"x":43.6,"y":14},{"c":11,"x":45.6,"y":18.8},{"c":11,"x":47.5,"y":20},{"c":11,"x":49.4,"y":18.8},{"c":11,"x":51.4,"y":14},{"c":11,"x":53.2,"y":8},{"c":11,"x":54.5,"y":-22},{"c":11,"x":58,"y":-4},{"c":11,"x":62,"y":-22},{"c":11,"x":66,"y":-5},{"c":11,"x":70,"y":-22},{"c":11,"x":74.5,"y":-7},{"c":11,"x":79,"y":-10},{"c":11,"x":82,"y":-22},{"c":11,"x":86,"y":-12},
      {"c":12,"x":-91,"y":-22},{"c":12,"x":-84,"y":-15},{"c":12,"x":-78,"y":-22},{"c":12,"x":-72,"y":-13},{"c":12,"x":-66,"y":-22},{"c":12,"x":-60,"y":-11},{"c":12,"x":-54,"y":-22},{"c":12,"x":-48,"y":-9.5},{"c":12,"x":-42,"y":-22},{"c":12,"x":-36,"y":-8.5},{"c":12,"x":-30,"y":-22},{"c":12,"x":-24,"y":-7.5},{"c":12,"x":-18,"y":-22},{"c":12,"x":-12,"y":-7},{"c":12,"x":-6,"y":-22},{"c":12,"x":0,"y":-6.5},{"c":12,"x":6,"y":-22},{"c":12,"x":12,"y":-6.5},{"c":12,"x":18,"y":-22},{"c":12,"x":24,"y":-6.5},{"c":12,"x":30,"y":-22},{"c":12,"x":35,"y":-7},{"c":12,"x":39,"y":-22},{"c":12,"x":41.3,"y":8},{"c":12,"x":43.2,"y":14},{"c":12,"x":45.2,"y":18.5},{"c":12,"x":47,"y":19.3},{"c":12,"x":48.8,"y":18.5},{"c":12,"x":50.8,"y":14},{"c":12,"x":52.7,"y":8},{"c":12,"x":54.2,"y":-22},{"c":12,"x":58,"y":-7},{"c":12,"x":62,"y":-22},{"c":12,"x":66,"y":-7.5},{"c":12,"x":70,"y":-5.8},{"c":12,"x":73,"y":-22},{"c":12,"x":77,"y":-12},{"c":12,"x":81,"y":-9.8},{"c":12,"x":85,"y":-13}
    ]
  },
  "vconcat": [
    {
      "hconcat": [
        {
          "width": 1235, "height": 968,
          "title": {"text": "(a)", "orient": "bottom", "offset": 0, "frame": "bounds"},
          "layer": [
            {
              "data": {"name": "a"},
              "mark": {"type": "line", "clip": true, "strokeWidth": 5.5},
              "encoding": {
                "x": {"field": "x", "type": "quantitative", "scale": {"domain": [-91.5, 87], "nice": false, "zero": false}, "axis": {"values": [-80, -60, -40, -20, 0, 20, 40, 60, 80], "ticks": false, "labelPadding": 24, "title": "θ(°)", "titlePadding": 20}},
                "y": {"field": "y", "type": "quantitative", "scale": {"domain": [-15, 25], "nice": false, "zero": false}, "axis": {"values": [-15, -10, -5, 0, 5, 10, 15, 20, 25], "ticks": false, "labelPadding": 6, "title": "Gain (dBi)", "titlePadding": 0, "minExtent": 73, "maxExtent": 73}},
                "color": {"field": "c", "type": "nominal", "scale": {"domain": [1,2,3,4,5,6,7,8,9,10,11,12], "range": ["#000000","#FF0000","#8064A2","#0000FF","#2E9460","#FF00FF","#E6B9B8","#7030A0","#00AEEF","#E8761E","#A6A6A6","#C8380F"]},
                  "legend": {"orient": "none", "legendX": 113, "legendY": 30, "title": null, "symbolType": "M-8,0H8", "symbolSize": 576, "symbolStrokeWidth": 5, "labelFontSize": 47, "labelFont": "Liberation Serif", "labelColor": "#111111", "labelOffset": 113, "labelLimit": 500, "rowPadding": 0, "padding": 0, "labelExpr": "'Case ' + datum.label", "labelFontWeight": {"expr": "indexof([4, 8, 12], datum.value) >= 0 ? 'bold' : 'normal'"}}},
                "strokeDash": {"field": "c", "type": "nominal", "scale": {"domain": [1,2,3,4,5,6,7,8,9,10,11,12], "range": [[1,0],[52,28],[52,30,5,30],[12,9],[1,0],[52,28],[52,30,5,30],[12,9],[1,0],[52,28],[52,30,5,30],[12,9]]},
                  "legend": {"orient": "none", "legendX": 113, "legendY": 30, "title": null, "symbolType": "M-8,0H8", "symbolSize": 576, "symbolStrokeWidth": 5, "labelFontSize": 47, "labelFont": "Liberation Serif", "labelColor": "#111111", "labelOffset": 113, "labelLimit": 500, "rowPadding": 0, "padding": 0, "labelExpr": "'Case ' + datum.label", "labelFontWeight": {"expr": "indexof([4, 8, 12], datum.value) >= 0 ? 'bold' : 'normal'"}}}
              }
            },
            {
              "data": {"values": [{"x1": -87.9, "x2": -25, "y1": 24.4, "y2": 0.1}]},
              "mark": {"type": "rect", "filled": false, "stroke": "#2323FF", "strokeWidth": 4, "strokeDash": [7, 6]},
              "encoding": {
                "x": {"field": "x1", "type": "quantitative", "scale": {"domain": [-91.5, 87], "nice": false, "zero": false}, "axis": null},
                "x2": {"field": "x2"},
                "y": {"field": "y1", "type": "quantitative", "scale": {"domain": [-15, 25], "nice": false, "zero": false}, "axis": null},
                "y2": {"field": "y2"}
              }
            },
            {
              "data": {"values": [{"x1": -87.9, "x2": -25, "y": 15.8}, {"x1": -87.9, "x2": -25, "y": 8.05}]},
              "mark": {"type": "rule", "stroke": "#2323FF", "strokeWidth": 4, "strokeDash": [7, 6]},
              "encoding": {
                "x": {"field": "x1", "type": "quantitative", "scale": {"domain": [-91.5, 87], "nice": false, "zero": false}, "axis": null},
                "x2": {"field": "x2"},
                "y": {"field": "y", "type": "quantitative", "scale": {"domain": [-15, 25], "nice": false, "zero": false}, "axis": null}
              }
            },
            {
              "data": {"values": [{"x": -24.4, "y": 22.7, "t": "θ=0°"}, {"x": -24.4, "y": 14.9, "t": "θ=25°"}, {"x": -24.4, "y": 7.1, "t": "θ=50°"}]},
              "mark": {"type": "text", "align": "left", "baseline": "middle", "fontSize": 52, "font": "Liberation Serif", "color": "#111111"},
              "encoding": {
                "x": {"field": "x", "type": "quantitative", "scale": {"domain": [-91.5, 87], "nice": false, "zero": false}, "axis": null},
                "y": {"field": "y", "type": "quantitative", "scale": {"domain": [-15, 25], "nice": false, "zero": false}, "axis": null},
                "text": {"field": "t"}
              }
            },
            {
              "data": {"values": [{"x": 0, "y": 0}]},
              "mark": {"type": "point", "opacity": 0},
              "encoding": {
                "x": {"field": "x", "type": "quantitative", "scale": {"domain": [-91.5, 87], "nice": false, "zero": false}, "axis": {"orient": "top", "labels": false, "title": null, "minExtent": 0, "maxExtent": 0, "values": [-80, -60, -40, -20, 0, 20, 40, 60, 80]}},
                "y": {"field": "y", "type": "quantitative", "scale": {"domain": [-15, 25], "nice": false, "zero": false}, "axis": {"orient": "right", "labels": false, "title": null, "minExtent": 0, "maxExtent": 0, "values": [-15, -10, -5, 0, 5, 10, 15, 20, 25]}}
              }
            },
            {
              "data": {"values": [{"x": 0, "y": 0}]},
              "mark": {"type": "point", "opacity": 0},
              "encoding": {
                "x": {"field": "x", "type": "quantitative", "scale": {"domain": [-91.5, 87], "nice": false, "zero": false}, "axis": {"orient": "bottom", "labels": false, "title": null, "minExtent": 0, "maxExtent": 0, "values": [-80, -60, -40, -20, 0, 20, 40, 60, 80]}},
                "y": {"field": "y", "type": "quantitative", "scale": {"domain": [-15, 25], "nice": false, "zero": false}, "axis": {"orient": "left", "labels": false, "title": null, "minExtent": 0, "maxExtent": 0, "values": [-15, -10, -5, 0, 5, 10, 15, 20, 25]}}
              }
            }
          ],
          "resolve": {"axis": {"x": "independent", "y": "independent"}}
        },
        {
          "width": 1220, "height": 968,
          "title": {"text": "(b)", "orient": "bottom", "offset": 0, "frame": "bounds"},
          "layer": [
            {
              "data": {"name": "b"},
              "mark": {"type": "line", "clip": true, "strokeWidth": 5.5},
              "encoding": {
                "x": {"field": "x", "type": "quantitative", "scale": {"domain": [-91, 87.5], "nice": false, "zero": false}, "axis": {"values": [-80, -60, -40, -20, 0, 20, 40, 60, 80], "ticks": false, "labelPadding": 24, "title": "θ(°)", "titlePadding": 20}},
                "y": {"field": "y", "type": "quantitative", "scale": {"domain": [-15, 25], "nice": false, "zero": false}, "axis": {"values": [-15, -10, -5, 0, 5, 10, 15, 20, 25], "ticks": false, "labelPadding": 6, "title": "Gain (dBi)", "titlePadding": 0, "minExtent": 73, "maxExtent": 73}},
                "color": {"field": "c", "type": "nominal", "scale": {"domain": [1,2,3,4,5,6,7,8,9,10,11,12], "range": ["#000000","#FF0000","#8064A2","#0000FF","#2E9460","#FF00FF","#E6B9B8","#7030A0","#00AEEF","#E8761E","#A6A6A6","#C8380F"]},
                  "legend": {"orient": "none", "legendX": 109, "legendY": 40, "title": null, "symbolType": "M-8,0H8", "symbolSize": 576, "symbolStrokeWidth": 5, "labelFontSize": 47, "labelFont": "Liberation Serif", "labelColor": "#111111", "labelOffset": 113, "labelLimit": 500, "rowPadding": 0, "padding": 0, "labelExpr": "'Case ' + datum.label", "labelFontWeight": {"expr": "indexof([4, 8, 12], datum.value) >= 0 ? 'bold' : 'normal'"}}},
                "strokeDash": {"field": "c", "type": "nominal", "scale": {"domain": [1,2,3,4,5,6,7,8,9,10,11,12], "range": [[1,0],[52,28],[52,30,5,30],[12,9],[1,0],[52,28],[52,30,5,30],[12,9],[1,0],[52,28],[52,30,5,30],[12,9]]},
                  "legend": {"orient": "none", "legendX": 109, "legendY": 40, "title": null, "symbolType": "M-8,0H8", "symbolSize": 576, "symbolStrokeWidth": 5, "labelFontSize": 47, "labelFont": "Liberation Serif", "labelColor": "#111111", "labelOffset": 113, "labelLimit": 500, "rowPadding": 0, "padding": 0, "labelExpr": "'Case ' + datum.label", "labelFontWeight": {"expr": "indexof([4, 8, 12], datum.value) >= 0 ? 'bold' : 'normal'"}}}
              }
            },
            {
              "data": {"values": [{"x": 0, "y": 0}]},
              "mark": {"type": "point", "opacity": 0},
              "encoding": {
                "x": {"field": "x", "type": "quantitative", "scale": {"domain": [-91, 87.5], "nice": false, "zero": false}, "axis": {"orient": "top", "labels": false, "title": null, "minExtent": 0, "maxExtent": 0, "values": [-80, -60, -40, -20, 0, 20, 40, 60, 80]}},
                "y": {"field": "y", "type": "quantitative", "scale": {"domain": [-15, 25], "nice": false, "zero": false}, "axis": {"orient": "right", "labels": false, "title": null, "minExtent": 0, "maxExtent": 0, "values": [-15, -10, -5, 0, 5, 10, 15, 20, 25]}}
              }
            },
            {
              "data": {"values": [{"x": 0, "y": 0}]},
              "mark": {"type": "point", "opacity": 0},
              "encoding": {
                "x": {"field": "x", "type": "quantitative", "scale": {"domain": [-91, 87.5], "nice": false, "zero": false}, "axis": {"orient": "bottom", "labels": false, "title": null, "minExtent": 0, "maxExtent": 0, "values": [-80, -60, -40, -20, 0, 20, 40, 60, 80]}},
                "y": {"field": "y", "type": "quantitative", "scale": {"domain": [-15, 25], "nice": false, "zero": false}, "axis": {"orient": "left", "labels": false, "title": null, "minExtent": 0, "maxExtent": 0, "values": [-15, -10, -5, 0, 5, 10, 15, 20, 25]}}
              }
            }
          ],
          "resolve": {"axis": {"x": "independent", "y": "independent"}}
        },
        {
          "width": 1170, "height": 968,
          "title": {"text": "(c)", "orient": "bottom", "offset": 0, "frame": "bounds"},
          "layer": [
            {
              "data": {"name": "c"},
              "mark": {"type": "line", "clip": true, "strokeWidth": 5.5},
              "encoding": {
                "x": {"field": "x", "type": "quantitative", "scale": {"domain": [-90.5, 86.5], "nice": false, "zero": false}, "axis": {"values": [-80, -60, -40, -20, 0, 20, 40, 60, 80], "ticks": false, "labelPadding": 24, "title": "θ(°)", "titlePadding": 20}},
                "y": {"field": "y", "type": "quantitative", "scale": {"domain": [-15, 25], "nice": false, "zero": false}, "axis": {"values": [-15, -10, -5, 0, 5, 10, 15, 20, 25], "ticks": false, "labelPadding": 6, "title": "Gain (dBi)", "titlePadding": 0, "minExtent": 73, "maxExtent": 73}},
                "color": {"field": "c", "type": "nominal", "scale": {"domain": [1,2,3,4,5,6,7,8,9,10,11,12], "range": ["#000000","#FF0000","#8064A2","#0000FF","#2E9460","#FF00FF","#E6B9B8","#7030A0","#00AEEF","#E8761E","#A6A6A6","#C8380F"]},
                  "legend": {"orient": "none", "legendX": 109, "legendY": 30, "title": null, "symbolType": "M-8,0H8", "symbolSize": 576, "symbolStrokeWidth": 5, "labelFontSize": 46, "labelFont": "Liberation Serif", "labelColor": "#111111", "labelOffset": 113, "labelLimit": 500, "rowPadding": 0, "padding": 0, "labelExpr": "'Case ' + datum.label", "labelFontWeight": {"expr": "indexof([4, 8, 12], datum.value) >= 0 ? 'bold' : 'normal'"}}},
                "strokeDash": {"field": "c", "type": "nominal", "scale": {"domain": [1,2,3,4,5,6,7,8,9,10,11,12], "range": [[1,0],[52,28],[52,30,5,30],[12,9],[1,0],[52,28],[52,30,5,30],[12,9],[1,0],[52,28],[52,30,5,30],[12,9]]},
                  "legend": {"orient": "none", "legendX": 109, "legendY": 30, "title": null, "symbolType": "M-8,0H8", "symbolSize": 576, "symbolStrokeWidth": 5, "labelFontSize": 46, "labelFont": "Liberation Serif", "labelColor": "#111111", "labelOffset": 113, "labelLimit": 500, "rowPadding": 0, "padding": 0, "labelExpr": "'Case ' + datum.label", "labelFontWeight": {"expr": "indexof([4, 8, 12], datum.value) >= 0 ? 'bold' : 'normal'"}}}
              }
            },
            {
              "data": {"values": [{"x": 0, "y": 0}]},
              "mark": {"type": "point", "opacity": 0},
              "encoding": {
                "x": {"field": "x", "type": "quantitative", "scale": {"domain": [-90.5, 86.5], "nice": false, "zero": false}, "axis": {"orient": "top", "labels": false, "title": null, "minExtent": 0, "maxExtent": 0, "values": [-80, -60, -40, -20, 0, 20, 40, 60, 80]}},
                "y": {"field": "y", "type": "quantitative", "scale": {"domain": [-15, 25], "nice": false, "zero": false}, "axis": {"orient": "right", "labels": false, "title": null, "minExtent": 0, "maxExtent": 0, "values": [-15, -10, -5, 0, 5, 10, 15, 20, 25]}}
              }
            },
            {
              "data": {"values": [{"x": 0, "y": 0}]},
              "mark": {"type": "point", "opacity": 0},
              "encoding": {
                "x": {"field": "x", "type": "quantitative", "scale": {"domain": [-90.5, 86.5], "nice": false, "zero": false}, "axis": {"orient": "bottom", "labels": false, "title": null, "minExtent": 0, "maxExtent": 0, "values": [-80, -60, -40, -20, 0, 20, 40, 60, 80]}},
                "y": {"field": "y", "type": "quantitative", "scale": {"domain": [-15, 25], "nice": false, "zero": false}, "axis": {"orient": "left", "labels": false, "title": null, "minExtent": 0, "maxExtent": 0, "values": [-15, -10, -5, 0, 5, 10, 15, 20, 25]}}
              }
            }
          ],
          "resolve": {"axis": {"x": "independent", "y": "independent"}}
        }
      ],
      "spacing": 30,
      "resolve": {"scale": {"x": "independent", "y": "independent", "color": "independent", "strokeDash": "independent"}, "legend": {"color": "independent", "strokeDash": "independent"}}
    },
    {
      "width": 3075, "height": 95,
      "view": {"stroke": "#3535FF", "strokeWidth": 6, "strokeDash": [11, 12]},
      "data": {"values": [{"k": 0, "w": "n", "t": "Case1/5/9: Original\u00a0\u00a0\u00a0\u00a0\u00a0\u00a0\u00a0Case2/6/10: Chebyshev\u00a0\u00a0\u00a0\u00a0\u00a0\u00a0\u00a0Case3/7/11: PSO"}, {"k": 1, "w": "b", "t": "Case4/8/12: WCA"}]},
      "layer": [
        {
          "transform": [{"filter": "datum.w == 'n'"}],
          "mark": {"type": "text", "align": "left", "baseline": "middle", "fontSize": 82, "font": "Liberation Serif", "color": "#111111", "dx": 8},
          "encoding": {"x": {"field": "k", "type": "quantitative", "scale": {"domain": [0, 1]}, "axis": null}, "text": {"field": "t"}}
        },
        {
          "transform": [{"filter": "datum.w == 'b'"}],
          "mark": {"type": "text", "align": "right", "baseline": "middle", "fontSize": 82, "font": "Liberation Serif", "fontWeight": "bold", "color": "#111111", "dx": -20},
          "encoding": {"x": {"field": "k", "type": "quantitative", "scale": {"domain": [0, 1]}, "axis": null}, "text": {"field": "t"}}
        }
      ]
    }
  ],
  "spacing": 35,
  "center": true
}
